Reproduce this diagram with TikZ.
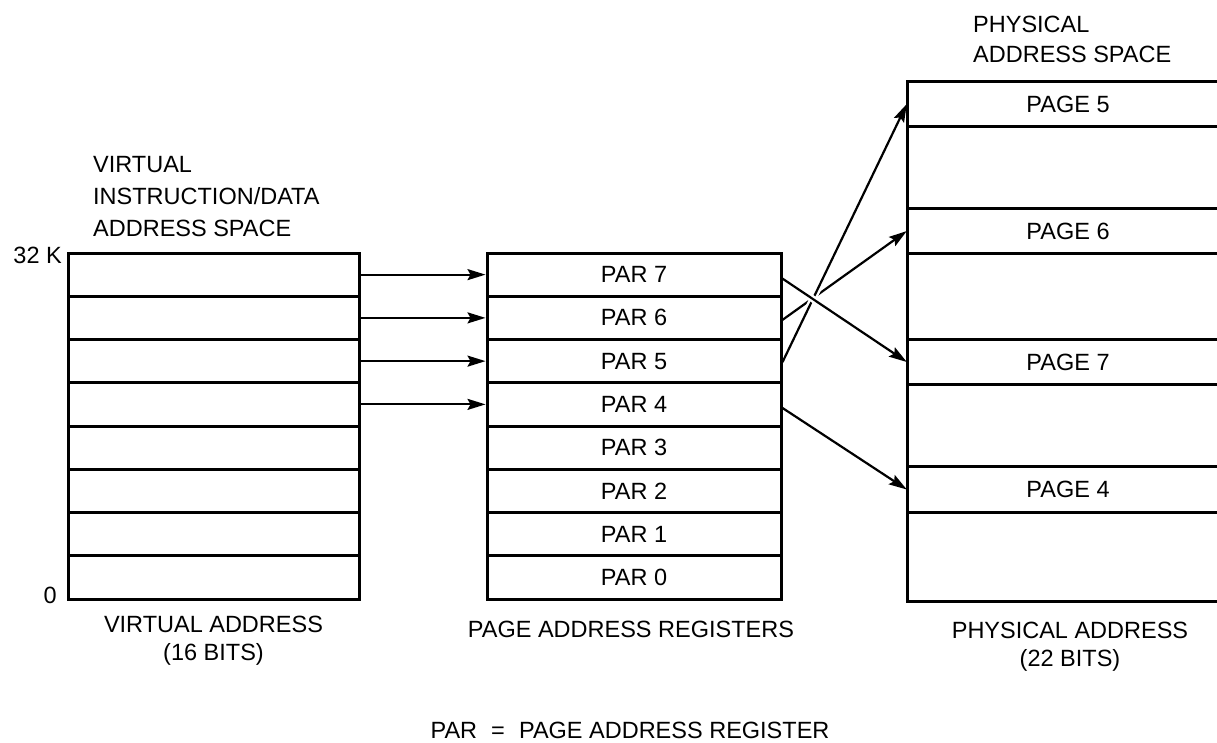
\documentclass[tikz,border=0pt]{standalone}
\usepackage{fontspec}
\setmainfont{Liberation Sans}
\usetikzlibrary{arrows.meta,calc}
\begin{document}
\begin{tikzpicture}[x=1pt,y=-1pt,
  lbl/.style={font=\fontsize{23.5}{28}\selectfont, inner sep=0pt},
  row/.style={draw, line width=3pt, minimum height=43.25pt, inner sep=0pt, font=\fontsize{23.5}{28}\selectfont},
  pagenode/.style={minimum width=322pt, minimum height=45pt, inner sep=0pt, font=\fontsize{23.5}{28}\selectfont},
  arr/.style={line width=2.2pt, -{Stealth[length=18pt,width=11pt,inset=3pt]}},
  pgline/.style={line width=3pt},
  halo/.style={white, line width=7pt}
]
\useasboundingbox (0,0) rectangle (1217,742);

% left box and page address registers
\foreach \i in {0,...,7} {
  \node[row, minimum width=291pt] (v\i) at (213.5, {253+43.25*(7.5-\i)}) {};
  \node[row, minimum width=294pt] (p\i) at (634, {253+43.25*(7.5-\i)}) {PAR \i};
}

% physical address space
\coordinate (re) at (1217,0);
\coordinate (ptop) at (907,81);
\coordinate (pbot) at (907,601);
\draw[pgline] (ptop -| re) -- (ptop) -- (pbot) -- (pbot -| re);
\node[pagenode] (g5) at (1068,104) {PAGE 5};
\node[pagenode] (g6) at (1068,231) {PAGE 6};
\node[pagenode] (g7) at (1068,362) {PAGE 7};
\node[pagenode] (g4) at (1068,489.5) {PAGE 4};
\foreach \g in {g5,g6,g7,g4} {
  \draw[pgline] (\g.north west) -- (\g.north west -| re);
  \draw[pgline] (\g.south west) -- (\g.south west -| re);
}

% virtual -> PAR arrows
\foreach \i in {7,6,5,4} {
  \draw[arr] (v\i.east) -- (p\i.west);
}

% PAR -> page arrows
\coordinate (s7) at ([yshift=-4pt]p7.east);
\coordinate (s6) at ([yshift=-2pt]p6.east);
\coordinate (s5) at ([yshift=-1pt]p5.east);
\coordinate (s4) at ([yshift=-3.6pt]p4.east);
\draw[arr] (s6) -- (g6.west);
\draw[halo] ($(s5)!0.19!(g5.west)$) -- ($(s5)!0.31!(g5.west)$);
\draw[arr] (s5) -- (g5.west);
\draw[halo] ($(s7)!0.17!(g7.west)$) -- ($(s7)!0.31!(g7.west)$);
\draw[arr] (s7) -- (g7.west);
\draw[arr] (s4) -- (g4.west);

% labels
\node[lbl, anchor=base west] (t1) at (93,172) {VIRTUAL};
\node[lbl, anchor=base west] (t2) at (93,204) {INSTRUCTION/DATA};
\node[lbl, anchor=base west] (t3) at (93,236) {ADDRESS SPACE};
\node[lbl, anchor=base east] (k32) at (62,263) {32 K};
\node[lbl, anchor=base east] (k0) at (57,603) {0};
\node[lbl, anchor=base] (va) at (213.5,632) {VIRTUAL ADDRESS};
\node[lbl, anchor=base] (vb) at (213.5,660) {(16 BITS)};
\node[lbl, anchor=base] (pr) at (631,637) {PAGE ADDRESS REGISTERS};
\node[lbl, anchor=base west] (ps1) at (973,32) {PHYSICAL};
\node[lbl, anchor=base west] (ps2) at (973,62) {ADDRESS SPACE};
\node[lbl, anchor=base] (pa) at (1070,638) {PHYSICAL ADDRESS};
\node[lbl, anchor=base] (pb) at (1070,666) {(22 BITS)};
\node[lbl, anchor=base] (leg) at (630,738) {PAR\hspace{0.6em}=\hspace{0.6em}PAGE ADDRESS REGISTER};
\end{tikzpicture}
\end{document}
